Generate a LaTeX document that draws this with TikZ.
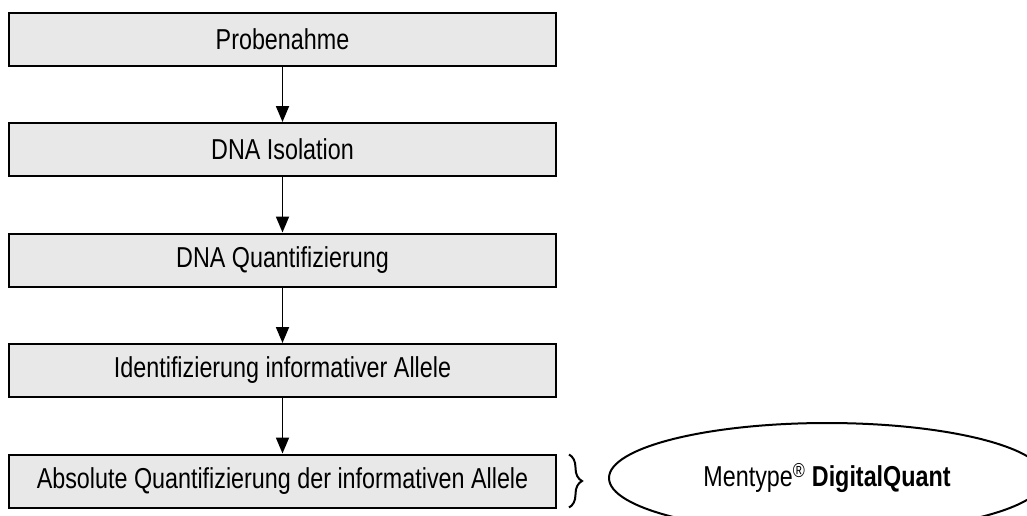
\documentclass[tikz,border=0pt]{standalone}
\usepackage{fontspec}
\setmainfont{Liberation Sans}[FakeStretch=0.81]
\usetikzlibrary{positioning,arrows.meta,shapes.geometric,decorations.pathreplacing}
\definecolor{BoxGray}{HTML}{E8E8E8}
\tikzset{
    block/.style = {draw, rectangle, fill=BoxGray, line width=2pt,
        inner sep=0pt,
        minimum height=53pt,
        minimum width=547pt},
    arrow/.style = {draw, line width=1.8pt, -{Triangle[width=13pt,length=16pt]}},
    kit/.style = {draw, ellipse, line width=2pt, inner sep=0pt,
        minimum width=436pt, minimum height=110pt}
}
\begin{document}
\begin{tikzpicture}[x=1pt,y=1pt,node distance=55.5pt,font=\fontsize{28.8}{32}\selectfont]
                \useasboundingbox (0,0) rectangle (1027,-515);
                \node[block] (probe) at (282.5,-39) {Probenahme};
                \node[block,below=of probe] (isol) {DNA Isolation};
                \node[block,below=of isol] (quant) {DNA Quantifizierung};
                \node[block,below=of quant] (ident) {Identifizierung informativer Allele};
                \node[block,below=of ident] (absq) {Absolute Quantifizierung der informativen Allele};
                \node[kit] (mentype) at (827,-478) {Mentype\textsuperscript{\textregistered} \textbf{DigitalQuant}};
                \coordinate (bracetop) at ([xshift=12pt,yshift=-1pt]absq.north east);
                \coordinate (bracebot) at ([xshift=12pt,yshift=1pt]absq.south east);
                \draw [arrow] (probe) -- (isol);
                \draw [arrow] (isol) -- (quant);
                \draw [arrow] (quant) -- (ident);
                \draw [arrow] (ident) -- (absq);
                \draw [line width=2pt,decorate,decoration={brace,amplitude=13pt}] (bracetop) -- (bracebot);
            \end{tikzpicture}
\end{document}
